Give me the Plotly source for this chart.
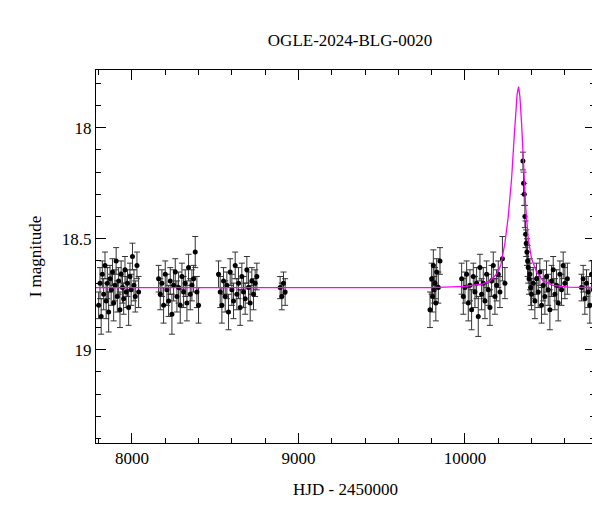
import plotly.graph_objects as go

# photometry (HJD-2450000, I mag, error)
hjd = [7800, 7808, 7815, 7822, 7830, 7838, 7845, 7852, 7860, 7868, 7875, 7883, 7890, 7898, 7905, 7912,
       7920, 7928, 7935, 7943, 7950, 7958, 7965, 7973, 7980, 7988, 7995, 8003, 8012, 8020, 8030, 8040,
       8160, 8170, 8180, 8190, 8200, 8210, 8220, 8230, 8240, 8250, 8260, 8270, 8280, 8290, 8300, 8310,
       8320, 8330, 8340, 8350, 8360, 8370, 8380, 8390, 8400,
       8520, 8530, 8540, 8550, 8560, 8570, 8580, 8590, 8600, 8610, 8620, 8630, 8640, 8650, 8660, 8670,
       8680, 8690, 8700, 8710, 8720, 8730, 8740, 8750,
       8890, 8900, 8910, 8920,
       9790, 9800, 9805, 9810, 9815, 9820, 9825, 9830, 9840, 9850,
       9980, 9990, 10000, 10010, 10020, 10030, 10040, 10050, 10060, 10070, 10080, 10090, 10100,
       10110, 10120, 10130, 10140, 10150, 10160, 10170, 10180, 10190, 10200, 10210, 10225, 10240,
       10348, 10352, 10356, 10360, 10364, 10368, 10372, 10376, 10380, 10385, 10390, 10395, 10400,
       10410, 10420, 10430, 10440, 10450, 10460, 10470, 10480, 10490, 10500, 10510, 10520, 10530,
       10540, 10550, 10560, 10570, 10580, 10590, 10600, 10615,
       10700, 10710, 10720, 10730, 10740, 10750, 10760, 10770, 10780]
imag = [18.80, 18.70, 18.85, 18.66, 18.75, 18.62, 18.78, 18.70, 18.83, 18.68, 18.73, 18.65, 18.79, 18.71, 18.60, 18.76,
        18.69, 18.82, 18.66, 18.72, 18.77, 18.64, 18.74, 18.70, 18.81, 18.67, 18.73, 18.58, 18.71, 18.76, 18.62, 18.74,
        18.68, 18.75, 18.70, 18.80, 18.66, 18.73, 18.78, 18.69, 18.84, 18.71, 18.65, 18.76, 18.72, 18.80, 18.67, 18.74,
        18.70, 18.79, 18.63, 18.75, 18.71, 18.68, 18.56, 18.74, 18.80,
        18.66, 18.74, 18.80, 18.69, 18.76, 18.71, 18.83, 18.65, 18.73, 18.78, 18.62, 18.75, 18.70, 18.81, 18.67, 18.74,
        18.77, 18.64, 18.72, 18.79, 18.69, 18.75, 18.70, 18.67,
        18.72, 18.76, 18.70, 18.74,
        18.82, 18.68, 18.76, 18.62, 18.73, 18.70, 18.79, 18.65, 18.72, 18.60,
        18.68, 18.76, 18.72, 18.66, 18.79, 18.71, 18.82, 18.67, 18.74, 18.70, 18.85, 18.63, 18.75,
        18.70, 18.78, 18.66, 18.73, 18.81, 18.69, 18.62, 18.76, 18.71, 18.66, 18.74, 18.59, 18.70,
        18.15, 18.25, 18.30, 18.40, 18.48, 18.52, 18.56, 18.60, 18.63, 18.68, 18.66, 18.72, 18.75,
        18.70, 18.78, 18.68, 18.74, 18.65, 18.80, 18.71, 18.76, 18.67, 18.73, 18.82, 18.69, 18.64,
        18.75, 18.71, 18.79, 18.66, 18.73, 18.62, 18.70, 18.68,
        18.72, 18.68, 18.77, 18.70, 18.74, 18.80, 18.66, 18.73, 18.70]
ierr = [0.06, 0.07, 0.08, 0.06, 0.07, 0.06, 0.08, 0.07, 0.09, 0.06, 0.07, 0.06, 0.08, 0.07, 0.06, 0.07,
        0.06, 0.08, 0.06, 0.07, 0.07, 0.06, 0.07, 0.06, 0.08, 0.06, 0.07, 0.06, 0.07, 0.07, 0.06, 0.07,
        0.06, 0.07, 0.06, 0.08, 0.06, 0.07, 0.07, 0.06, 0.09, 0.07, 0.06, 0.07, 0.07, 0.08, 0.06, 0.07,
        0.06, 0.08, 0.06, 0.07, 0.07, 0.06, 0.07, 0.07, 0.08,
        0.06, 0.07, 0.08, 0.06, 0.07, 0.06, 0.08, 0.06, 0.07, 0.08, 0.06, 0.07, 0.07, 0.08, 0.06, 0.07,
        0.07, 0.06, 0.07, 0.08, 0.06, 0.07, 0.06, 0.06,
        0.05, 0.06, 0.05, 0.06,
        0.08, 0.07, 0.07, 0.07, 0.06, 0.07, 0.08, 0.06, 0.07, 0.06,
        0.07, 0.08, 0.07, 0.06, 0.08, 0.07, 0.09, 0.06, 0.07, 0.07, 0.09, 0.06, 0.07,
        0.07, 0.08, 0.06, 0.07, 0.08, 0.07, 0.06, 0.08, 0.07, 0.06, 0.07, 0.10, 0.07,
        0.04, 0.05, 0.05, 0.05, 0.06, 0.06, 0.06, 0.07, 0.07, 0.07, 0.07, 0.08, 0.07,
        0.07, 0.08, 0.07, 0.07, 0.06, 0.08, 0.07, 0.08, 0.07, 0.07, 0.09, 0.07, 0.06,
        0.07, 0.07, 0.08, 0.06, 0.07, 0.06, 0.07, 0.07,
        0.06, 0.06, 0.07, 0.06, 0.07, 0.08, 0.06, 0.07, 0.06]

# model light curve
model_t = [7780, 9800, 10000, 10100, 10150, 10190, 10215, 10240, 10260, 10280, 10295, 10305, 10313,
           10322, 10330, 10340, 10352, 10365, 10380, 10400, 10430, 10470, 10530, 10620, 10790]
model_mag = [18.72, 18.72, 18.715, 18.705, 18.69, 18.66, 18.62, 18.52, 18.40, 18.23, 18.05, 17.92, 17.85,
             17.815, 17.86, 17.98, 18.17, 18.36, 18.50, 18.59, 18.65, 18.69, 18.71, 18.718, 18.72]

font = dict(family="Liberation Serif", size=17, color="black")

fig = go.Figure()
fig.add_trace(go.Scatter(x=hjd, y=imag, mode='markers',
                         marker=dict(color='black', size=5),
                         error_y=dict(type='data', array=ierr, color='#333333', thickness=1, width=3)))
fig.add_trace(go.Scatter(x=model_t, y=model_mag, mode='lines', line=dict(color='magenta', width=1.3)))

axis_common = dict(showgrid=False, zeroline=False, showline=True, linecolor='black', mirror='allticks',
                   ticks='inside', ticklen=10, tickcolor='black')
fig.update_xaxes(range=[7784, 10781], dtick=1000, tickformat='d',
                 minor=dict(dtick=200, ticks='inside', ticklen=5, tickcolor='black'),
                 title=dict(text='HJD - 2450000', font=font), **axis_common)
fig.update_yaxes(range=[19.42, 17.74], tickvals=[18, 18.5, 19], ticktext=['18', '18.5', '19'],
                 minor=dict(dtick=0.1, ticks='inside', ticklen=5, tickcolor='black'),
                 title=dict(text='I magnitude', font=font), **axis_common)
fig.update_layout(width=600, height=512, showlegend=False, plot_bgcolor='white', paper_bgcolor='white',
                  font=font, margin=dict(l=88, r=13, t=62, b=77),
                  title=dict(text='OGLE-2024-BLG-0020', x=0.57, y=0.95, font=font))
fig.write_html("out.html")
